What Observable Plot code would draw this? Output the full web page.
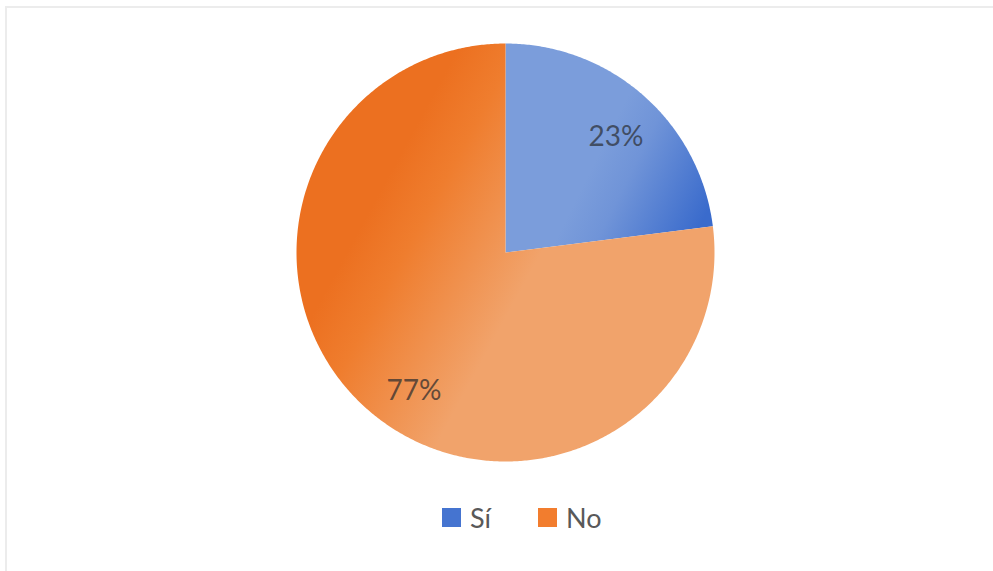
<!DOCTYPE html>
<html>
<head>
<meta charset="utf-8">
<script src="https://cdn.jsdelivr.net/npm/d3@7"></script>
<script src="https://cdn.jsdelivr.net/npm/@observablehq/plot@0.6"></script>
<style>
  html, body { margin: 0; padding: 0; background: #ffffff; }
  #wrap { position: relative; width: 993px; height: 571px; overflow: hidden; background: #fff; font-family: Lato, "Open Sans", sans-serif; }
  #frame { position: absolute; left: 5px; top: 6px; width: 1000px; height: 580px; border-top: 2px solid #ececec; border-left: 2px solid #ececec; }
  #chart { position: absolute; left: 0; top: 0; }
  #legend { position: absolute; top: 501px; left: 442px; display: flex; align-items: center; font-size: 27px; color: #595959; }
  #legend .item { display: flex; align-items: center; }
  #legend .sw { width: 19px; height: 19px; margin-right: 9px; }
</style>
</head>
<body>
<div id="wrap">
  <div id="frame"></div>
  <div id="chart"></div>
  <div id="legend"></div>
</div>
<script>
// ---- data ----
const categories = ["Sí", "No"];
const values = [23, 77];
const labels = ["23%", "77%"];

// ---- styles ----
const swatchColors = ["#4574d0", "#f27d2e"];

const rows = categories.map((c, i) => ({category: c, value: values[i], label: labels[i], idx: i}));
const arcs = d3.pie().sort(null).value(d => d.value)(rows);

// polygon points (unit circle) for each slice, derived from the pie angles
const points = [];
arcs.forEach(a => {
  const cat = a.data.category;
  points.push({category: cat, x: 0, y: 0});
  const n = Math.max(8, Math.ceil((a.endAngle - a.startAngle) / (Math.PI / 360)));
  for (let k = 0; k <= n; k++) {
    const t = a.startAngle + (a.endAngle - a.startAngle) * k / n;
    points.push({category: cat, x: Math.sin(t), y: Math.cos(t)});
  }
});

const labelFrac = 0.77;
const labelPts = arcs.map(a => {
  const m = (a.startAngle + a.endAngle) / 2;
  return {category: a.data.category, label: a.data.label, x: labelFrac * Math.sin(m), y: labelFrac * Math.cos(m)};
});

const cx = 505, cy = 252, r = 209;
const plot = Plot.plot({
  width: 993,
  height: 490,
  margin: 0,
  x: {domain: [-1, 1], range: [cx - r, cx + r], axis: null},
  y: {domain: [-1, 1], range: [cy + r, cy - r], axis: null},
  style: {background: "transparent", overflow: "visible"},
  marks: [
    Plot.line(points, {filter: d => d.category === categories[0], x: "x", y: "y", fill: "url(#gSi)", stroke: "none", curve: "linear-closed"}),
    Plot.line(points, {filter: d => d.category === categories[1], x: "x", y: "y", fill: "url(#gNo)", stroke: "none", curve: "linear-closed"}),
    Plot.text(labelPts, {filter: d => d.category === categories[0], x: "x", y: "y", text: "label", dx: 4, dy: 5, fontSize: 28, fill: "#37404f", fillOpacity: 0.85, fontFamily: "Lato"}),
    Plot.text(labelPts, {filter: d => d.category === categories[1], x: "x", y: "y", text: "label", dx: 15, dy: 18, fontSize: 28, fill: "#3e3530", fillOpacity: 0.8, fontFamily: "Lato"})
  ]
});

// gradient definitions
const svg = d3.select(plot);
const defs = svg.insert("defs", ":first-child");
const gSi = defs.append("linearGradient").attr("id", "gSi").attr("gradientUnits", "userSpaceOnUse")
  .attr("x1", 600).attr("y1", 150).attr("x2", 710).attr("y2", 205);
gSi.append("stop").attr("offset", 0).attr("stop-color", "#7b9ddb");
gSi.append("stop").attr("offset", 0.3).attr("stop-color", "#7094d8");
gSi.append("stop").attr("offset", 1).attr("stop-color", "#3a6bcc");
const gNo = defs.append("linearGradient").attr("id", "gNo").attr("gradientUnits", "userSpaceOnUse")
  .attr("x1", 350).attr("y1", 245).attr("x2", 500).attr("y2", 327);
gNo.append("stop").attr("offset", 0).attr("stop-color", "#ec7020");
gNo.append("stop").attr("offset", 0.3).attr("stop-color", "#ef7d2e");
gNo.append("stop").attr("offset", 1).attr("stop-color", "#f1a36b");

document.getElementById("chart").appendChild(plot);

// legend
const legend = d3.select("#legend");
categories.forEach((c, i) => {
  const item = legend.append("div").attr("class", "item").style("margin-right", i === 0 ? "47px" : "0px");
  item.append("div").attr("class", "sw").style("background", swatchColors[i]);
  item.append("span").text(c);
});
</script>
</body>
</html>
